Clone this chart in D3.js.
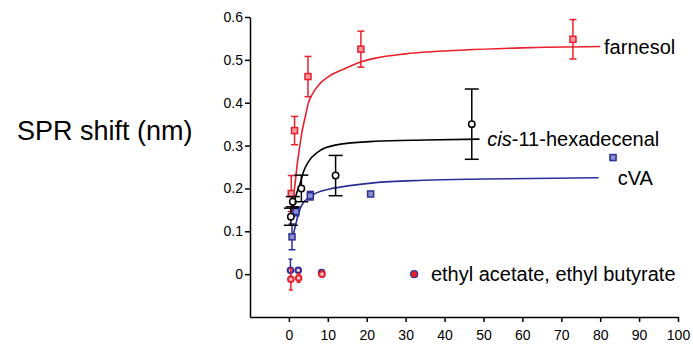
<!DOCTYPE html>
<html>
<head>
<meta charset="utf-8">
<script src="https://cdn.jsdelivr.net/npm/d3@7"></script>
<style>
  html, body { margin: 0; padding: 0; background: #fff; }
  svg { display: block; font-family: Arial, "Liberation Sans", sans-serif; }
</style>
</head>
<body>
<div id="chart"></div>
<script>
// measured points (concentration, SPR shift, s.e.m.)
const farnesolX = [0.6, 1.45, 4.9, 18.5, 73];
const farnesolY = [0.188, 0.335, 0.461, 0.525, 0.548];
const farnesolErr = [0.042, 0.033, 0.047, 0.042, 0.046];

const hexadecenalX = [0.5, 1.0, 3.2, 12, 47];
const hexadecenalY = [0.134, 0.169, 0.2, 0.23, 0.35];
const hexadecenalErr = [0.02, 0.012, 0.031, 0.047, 0.082];

const cvaX = [0.8, 1.8, 5.5, 21, 83.3];
const cvaY = [0.087, 0.146, 0.183, 0.187, 0.272];
const cvaErr = [0.03, 0.01, 0.01, 0.003, 0.003];

const acetateX = [0.4, 2.4, 8.4];
const acetateY = [0.009, 0.009, 0.004];
const acetateErr = [0.026, 0.006, 0.004];

const butyrateX = [0.5, 2.5, 8.5];
const butyrateY = [-0.012, -0.009, 0.0];
const butyrateErr = [0.025, 0.01, 0.006];

// fitted curves
const farnesolFitX = [1.3, 1.6, 2.05, 2.65, 3.3, 4.2, 5.0, 5.9, 7.6, 10.2, 14.5, 18.8, 22.2, 30, 45, 60, 80];
const farnesolFitY = [0.19, 0.212, 0.25, 0.29, 0.329, 0.367, 0.399, 0.418, 0.441, 0.461, 0.48, 0.496, 0.504, 0.514, 0.523, 0.528, 0.531];
const hexadecenalFitX = [1.0, 1.5, 2.2, 2.9, 3.75, 5.0, 7.6, 11.9, 22.2, 35, 49];
const hexadecenalFitY = [0.15, 0.172, 0.195, 0.212, 0.239, 0.262, 0.286, 0.301, 0.31, 0.313, 0.315];
const cvaFitX = [1.2, 1.6, 2.5, 3.3, 5.5, 10.2, 13.2, 21.7, 34.6, 50, 79.6];
const cvaFitY = [0.095, 0.11, 0.142, 0.161, 0.181, 0.198, 0.203, 0.213, 0.219, 0.222, 0.225];

const xTicks = [0, 10, 20, 30, 40, 50, 60, 70, 80, 90, 100];
const yTicks = [0, 0.1, 0.2, 0.3, 0.4, 0.5, 0.6];

const RED = '#e8202c';
const BLUE = '#2b2f96';
const BLACK = '#000';

const width = 693, height = 347;
const svg = d3.select('#chart').append('svg')
  .attr('width', width).attr('height', height);

const x = d3.scaleLinear().domain([-10, 100]).range([250, 678]);
const y = d3.scaleLinear().domain([-0.1, 0.6]).range([317, 17]);

// axes
svg.append('g')
  .attr('transform', `translate(0,${y(-0.1)})`)
  .call(d3.axisBottom(x).tickValues(xTicks).tickSize(5).tickPadding(8).tickSizeOuter(0))
  .call(g => g.selectAll('path, line').attr('stroke', '#000').attr('stroke-width', 1.5))
  .call(g => g.selectAll('text').attr('font-size', 14).attr('fill', '#000')
    .attr('font-family', 'Arial, "Liberation Sans", sans-serif'));

svg.append('g')
  .attr('transform', `translate(${x(-10)},0)`)
  .call(d3.axisLeft(y).tickValues(yTicks).tickFormat(d => d === 0 ? '0' : d3.format('.1f')(d))
    .tickSize(5).tickPadding(2).tickSizeOuter(0))
  .call(g => g.selectAll('path, line').attr('stroke', '#000').attr('stroke-width', 1.5))
  .call(g => g.selectAll('text').attr('font-size', 14).attr('fill', '#000')
    .attr('font-family', 'Arial, "Liberation Sans", sans-serif'));

svg.append('text')
  .attr('x', 17).attr('y', 140)
  .attr('font-size', 27)
  .text('SPR shift (nm)');

// fitted lines
const line = d3.line().x(d => x(d[0])).y(d => y(d[1])).curve(d3.curveMonotoneX);
const fits = [
  { xs: farnesolFitX, ys: farnesolFitY, color: RED },
  { xs: hexadecenalFitX, ys: hexadecenalFitY, color: BLACK },
  { xs: cvaFitX, ys: cvaFitY, color: BLUE },
];
fits.forEach(f => {
  svg.append('path')
    .datum(f.xs.map((v, i) => [v, f.ys[i]]))
    .attr('fill', 'none')
    .attr('stroke', f.color)
    .attr('stroke-width', 1.6)
    .attr('d', line);
});

// points with error bars
function drawSeries(xs, ys, errs, color, shape, capW) {
  const g = svg.append('g');
  const pts = xs.map((v, i) => ({ x: v, y: ys[i], e: errs[i] }));
  const bars = g.selectAll('g.bar').data(pts).join('g');
  bars.append('line')
    .attr('x1', d => x(d.x)).attr('x2', d => x(d.x))
    .attr('y1', d => y(d.y + d.e)).attr('y2', d => y(d.y - d.e))
    .attr('stroke', color).attr('stroke-width', 1.5);
  [1, -1].forEach(s => {
    bars.append('line')
      .attr('x1', d => x(d.x) - capW / 2).attr('x2', d => x(d.x) + capW / 2)
      .attr('y1', d => y(d.y + s * d.e)).attr('y2', d => y(d.y + s * d.e))
      .attr('stroke', color).attr('stroke-width', 1.5);
  });
  if (shape === 'square') {
    bars.append('rect')
      .attr('x', d => x(d.x) - 3).attr('y', d => y(d.y) - 3)
      .attr('width', 6).attr('height', 6)
      .attr('fill', color === RED ? '#f39aa0' : '#8c8fd0')
      .attr('stroke', color).attr('stroke-width', 1.5);
  } else {
    bars.append('circle')
      .attr('cx', d => x(d.x)).attr('cy', d => y(d.y)).attr('r', shape === 'dot' ? 2.8 : 3.2)
      .attr('fill', shape === 'dot' ? '#f7c6c9' : '#fff')
      .attr('stroke', color).attr('stroke-width', shape === 'dot' ? 2 : 1.5);
  }
}

drawSeries(farnesolX, farnesolY, farnesolErr, RED, 'square', 7);
drawSeries(cvaX, cvaY, cvaErr, BLUE, 'square', 7);
drawSeries(hexadecenalX, hexadecenalY, hexadecenalErr, BLACK, 'circle', 14);
drawSeries(acetateX, acetateY, acetateErr, BLUE, 'dot', 4);
drawSeries(butyrateX, butyrateY, butyrateErr, RED, 'dot', 4);

// series labels
const labelFont = 20;
svg.append('text').attr('x', x(81)).attr('y', y(0.513)).attr('font-size', labelFont).text('farnesol');
const hex = svg.append('text').attr('x', x(51)).attr('y', y(0.298)).attr('font-size', labelFont);
hex.append('tspan').attr('font-style', 'italic').text('cis');
hex.append('tspan').text('-11-hexadecenal');
svg.append('text').attr('x', x(84.5)).attr('y', y(0.207)).attr('font-size', labelFont).text('cVA');

svg.append('circle')
  .attr('cx', x(32.2)).attr('cy', y(0.0)).attr('r', 3.5)
  .attr('fill', RED).attr('stroke', BLUE).attr('stroke-width', 1.2);
svg.append('text').attr('x', x(36.5)).attr('y', y(-0.017)).attr('font-size', labelFont)
  .text('ethyl acetate, ethyl butyrate');
</script>
</body>
</html>
